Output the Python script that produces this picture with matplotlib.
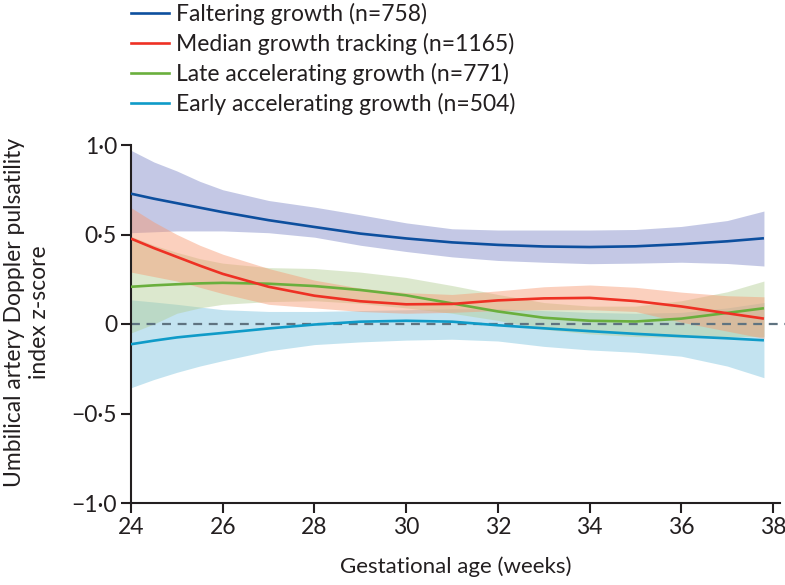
import matplotlib
matplotlib.use("Agg")
import matplotlib.pyplot as plt
from matplotlib.lines import Line2D
import numpy as np

plt.rcParams['font.family'] = ['Lato', 'DejaVu Sans']

weeks = [24, 24.5, 25, 25.5, 26, 27, 28, 29, 30, 31, 32, 33, 34, 35, 36, 37, 37.8]

falter_mean = [0.728, 0.70, 0.675, 0.65, 0.625, 0.58, 0.542, 0.505, 0.478, 0.456, 0.442, 0.433, 0.43, 0.434, 0.446, 0.462, 0.479]
falter_hi = [0.97, 0.905, 0.855, 0.797, 0.75, 0.69, 0.653, 0.61, 0.565, 0.532, 0.525, 0.525, 0.525, 0.528, 0.545, 0.578, 0.631]
falter_lo = [0.51, 0.515, 0.52, 0.52, 0.52, 0.51, 0.485, 0.44, 0.405, 0.375, 0.355, 0.345, 0.337, 0.34, 0.345, 0.338, 0.324]

median_mean = [0.477, 0.424, 0.375, 0.326, 0.28, 0.208, 0.158, 0.127, 0.11, 0.112, 0.132, 0.143, 0.146, 0.128, 0.098, 0.06, 0.03]
median_hi = [0.65, 0.57, 0.5, 0.44, 0.39, 0.31, 0.245, 0.2, 0.175, 0.165, 0.185, 0.208, 0.218, 0.205, 0.178, 0.158, 0.152]
median_lo = [0.29, 0.265, 0.24, 0.205, 0.17, 0.11, 0.09, 0.07, 0.06, 0.065, 0.075, 0.08, 0.08, 0.07, 0.01, -0.04, -0.08]

late_mean = [0.208, 0.216, 0.222, 0.227, 0.23, 0.225, 0.212, 0.19, 0.16, 0.115, 0.07, 0.035, 0.018, 0.014, 0.03, 0.062, 0.088]
late_hi = [0.49, 0.44, 0.40, 0.365, 0.34, 0.315, 0.31, 0.29, 0.26, 0.215, 0.165, 0.12, 0.1, 0.1, 0.13, 0.18, 0.24]
late_lo = [-0.05, 0.0, 0.06, 0.09, 0.11, 0.125, 0.13, 0.115, 0.09, 0.06, 0.02, -0.03, -0.055, -0.07, -0.075, -0.07, -0.07]

early_mean = [-0.113, -0.093, -0.075, -0.062, -0.05, -0.025, -0.003, 0.013, 0.018, 0.013, -0.007, -0.024, -0.04, -0.055, -0.068, -0.08, -0.091]
early_hi = [0.135, 0.123, 0.11, 0.095, 0.08, 0.07, 0.07, 0.075, 0.08, 0.085, 0.085, 0.075, 0.065, 0.06, 0.065, 0.09, 0.12]
early_lo = [-0.356, -0.31, -0.27, -0.235, -0.205, -0.15, -0.115, -0.1, -0.09, -0.085, -0.095, -0.125, -0.145, -0.158, -0.18, -0.235, -0.30]

labels = ["Faltering growth (n=758)", "Median growth tracking (n=1165)",
          "Late accelerating growth (n=771)", "Early accelerating growth (n=504)"]
line_colors = ["#0d4f9e", "#ee3124", "#6aaf3d", "#0f9bc8"]
band_colors = ["#7c87c7", "#f8976f", "#b3ce94", "#7ac3de"]

xticks = [24, 26, 28, 30, 32, 34, 36, 38]
yticks = [-1.0, -0.5, 0, 0.5, 1.0]
ytick_labels = ["\u22121\u00b70", "\u22120\u00b75", "0", "0\u00b75", "1\u00b70"]

fig = plt.figure(figsize=(7.85, 5.85), dpi=100)
ax = fig.add_axes([131/785, 1 - 503/585, (780 - 131)/785, (503 - 145)/585])

means = [falter_mean, median_mean, late_mean, early_mean]
his = [falter_hi, median_hi, late_hi, early_hi]
los = [falter_lo, median_lo, late_lo, early_lo]

# confidence bands
fill_order = [0, 3, 2, 1]
for i in fill_order:
    ax.fill_between(weeks, los[i], his[i], color=band_colors[i], alpha=0.45, lw=0, zorder=1)

# zero reference line (extends past the axis to the figure edge)
ax.plot([24, 38.3], [0, 0], color="#5f7380", lw=1.6, dashes=(4, 3), clip_on=False, zorder=2)

draw_order = [0, 3, 2, 1]
for i in draw_order:
    ax.plot(weeks, means[i], color=line_colors[i], lw=1.9, zorder=3, solid_capstyle='butt')

ax.set_xlim(24, 38.15)
ax.set_ylim(-1.0, 1.0)
ax.set_xticks(xticks)
ax.set_xticklabels([str(t) for t in xticks])
ax.set_yticks(yticks)
ax.set_yticklabels(ytick_labels)

for s in ["top", "right"]:
    ax.spines[s].set_visible(False)
for s in ["left", "bottom"]:
    ax.spines[s].set_linewidth(1.5)
    ax.spines[s].set_color("#231f20")
ax.tick_params(axis='both', direction='out', length=7, width=1.5, color="#231f20",
               labelsize=16.5, labelcolor="#231f20", pad=3)

ax.set_xlabel("Gestational age (weeks)", fontsize=16, color="#231f20", labelpad=13)
fig.text(27/785, 1 - 312/585, "Umbilical artery Doppler pulsatility\nindex z-score",
         rotation=90, ha="center", va="center", multialignment="center",
         fontsize=16.5, color="#231f20", linespacing=1.2)

handles = [Line2D([], [], color=c, lw=1.9) for c in line_colors]
fig.legend(handles, labels, loc="upper left", bbox_to_anchor=(131/785, 1 - 3/585),
           frameon=False, fontsize=16.5, handlelength=1.65, handletextpad=0.3,
           labelspacing=0.34, borderpad=0, borderaxespad=0, labelcolor="#231f20")

fig.savefig("out.png", dpi=100)
